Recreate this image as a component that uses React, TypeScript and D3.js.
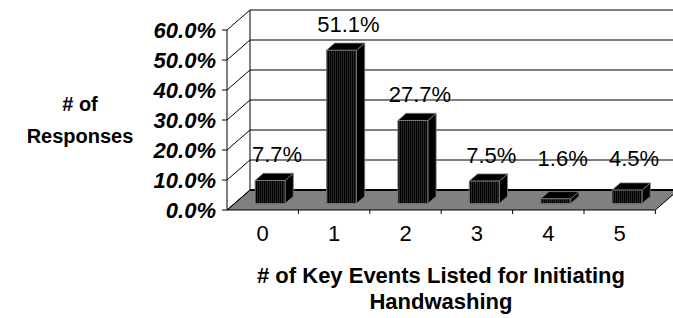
import React from 'react';
import * as d3 from 'd3';

// chart values
const categories = ['0', '1', '2', '3', '4', '5'];
const responsePct = [7.7, 51.1, 27.7, 7.5, 1.6, 4.5];
const yTicks = [0, 10, 20, 30, 40, 50, 60];

const W = 673;
const H = 318;
const FONT = "Arial, 'Liberation Sans', sans-serif";

// 3d depth of the plot box (screen offset of the back wall)
const DEPTH_X = 23;
const DEPTH_Y = -20;
// bars sit between these fractions of the depth
const BAR_D0 = 0.32;
const BAR_D1 = 0.68;

export default function App() {
  const x = d3.scaleBand<string>()
    .domain(categories)
    .range([227, 655.4])
    .paddingInner(0.58)
    .paddingOuter(0.29);

  const y = d3.scaleLinear()
    .domain([0, 60])
    .range([210, 30]);

  const step = x.step();
  const x0 = x.range()[0];
  const x1 = x.range()[1];

  // project a front-plane point back by depth fraction d
  const proj = (px: number, py: number, d: number): [number, number] => [px + DEPTH_X * d, py + DEPTH_Y * d];
  const pts = (arr: [number, number][]) => arr.map((p) => p.join(',')).join(' ');

  const floor = pts([proj(x0, y(0), 0), proj(x1, y(0), 0), proj(x1, y(0), 1), proj(x0, y(0), 1)]);

  return (
    <svg width={W} height={H} style={{ position: 'absolute', left: 0, top: 0, background: '#fff' }}>
      <defs>
        <pattern id="hatch" width="2" height="4" patternUnits="userSpaceOnUse">
          <rect width="2" height="4" fill="#000" />
          <rect x="1" width="1" height="4" fill="#2a2a2a" />
        </pattern>
      </defs>

      {/* floor */}
      <polygon points={floor} fill="#808080" stroke="#000" strokeWidth={1} />
      <line x1={proj(x0, y(0), 1)[0]} y1={proj(x0, y(0), 1)[1]} x2={proj(x1, y(0), 1)[0]} y2={proj(x1, y(0), 1)[1]}
        stroke="#000" strokeWidth={2} />

      {/* back wall gridlines and side wall diagonals */}
      {yTicks.map((t) => {
        const [bx, by] = proj(x0, y(t), 1);
        const [ex] = proj(x1, y(t), 1);
        return (
          <g key={t}>
            {t > 0 && <line x1={bx} y1={by} x2={ex + 10} y2={by} stroke="#000" strokeWidth={1} />}
            <line x1={x0} y1={y(t)} x2={bx} y2={by} stroke="#000" strokeWidth={1} />
            <line x1={x0 - 5} y1={y(t)} x2={x0} y2={y(t)} stroke="#000" strokeWidth={1} />
            <text x={216} y={y(t)} dy="0.36em" textAnchor="end" fontFamily={FONT} fontSize={22}
              fontWeight="bold" fontStyle="italic">{`${t.toFixed(1)}%`}</text>
          </g>
        );
      })}
      {/* back wall left edge and front axis */}
      <line x1={proj(x0, y(0), 1)[0]} y1={proj(x0, y(0), 1)[1]} x2={proj(x0, y(60), 1)[0]} y2={proj(x0, y(60), 1)[1]}
        stroke="#000" strokeWidth={1} />
      <line x1={x0} y1={y(0)} x2={x0} y2={y(60)} stroke="#000" strokeWidth={1} />

      {/* category ticks and labels */}
      {categories.map((c, i) => (
        <g key={c}>
          <line x1={x0 + step * (i + 1)} y1={y(0)} x2={x0 + step * (i + 1)} y2={y(0) + 4} stroke="#000" />
          <text x={x0 + step * (i + 0.5)} y={241} textAnchor="middle" fontFamily={FONT} fontSize={22}>{c}</text>
        </g>
      ))}

      {/* bars */}
      {categories.map((c, i) => {
        const v = responsePct[i];
        const bl = x(c) as number;
        const br = bl + x.bandwidth();
        const fbl = proj(bl, y(0), BAR_D0);
        const fbr = proj(br, y(0), BAR_D0);
        const ftl = proj(bl, y(v), BAR_D0);
        const ftr = proj(br, y(v), BAR_D0);
        const btl = proj(bl, y(v), BAR_D1);
        const btr = proj(br, y(v), BAR_D1);
        const bbr = proj(br, y(0), BAR_D1);
        const labelY = Math.min(btl[1] - 11, 166);
        return (
          <g key={c}>
            <polygon points={pts([fbr, bbr, btr, ftr])} fill="#000" stroke="#808080" strokeWidth={0.8} />
            <polygon points={pts([ftl, ftr, btr, btl])} fill="#000" stroke="#808080" strokeWidth={0.8} />
            <polygon points={pts([fbl, fbr, ftr, ftl])} fill="url(#hatch)" stroke="#808080" strokeWidth={0.8} />
            <text x={(fbl[0] + fbr[0]) / 2 + 7} y={labelY} textAnchor="middle" fontFamily={FONT}
              fontSize={22}>{`${v.toFixed(1)}%`}</text>
          </g>
        );
      })}

      {/* axis titles */}
      <text textAnchor="middle" fontFamily={FONT} fontSize={20} fontWeight="bold">
        <tspan x={80} y={111}># of</tspan>
        <tspan x={80} y={143}>Responses</tspan>
      </text>
      <text textAnchor="middle" fontFamily={FONT} fontSize={22} fontWeight="bold">
        <tspan x={441} y={283}># of Key Events Listed for Initiating</tspan>
        <tspan x={441} y={309}>Handwashing</tspan>
      </text>
    </svg>
  );
}
